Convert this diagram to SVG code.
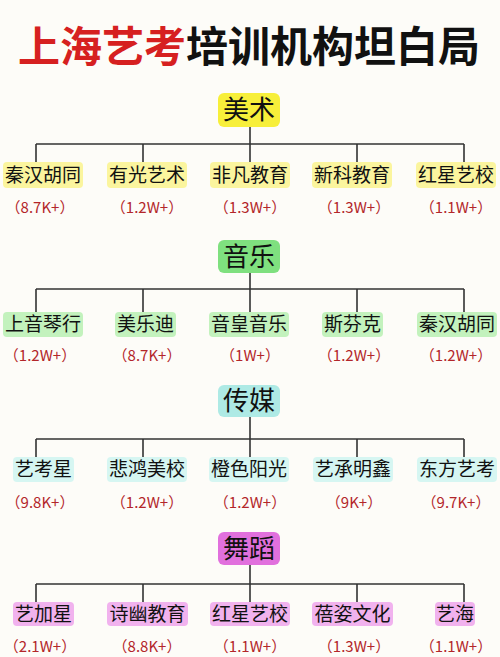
<svg xmlns="http://www.w3.org/2000/svg" width="500" height="657" viewBox="0 0 500 657">
<style>
text{font-family:"Noto Sans CJK SC","Noto Sans",sans-serif;text-anchor:middle}
.title{font-size:42px;font-weight:bold}
.h{font-size:26px;fill:#111}
.c{font-size:19px;fill:#111}
.v{font-size:15px;fill:#b3262a}
.ln{stroke:#333;stroke-width:1.6;fill:none}
.y1{fill:#f7ef3a}.y2{fill:#fbf59e}
.g1{fill:#7fe07f}.g2{fill:#c3f2bd}
.b1{fill:#aeeae5}.b2{fill:#d6f6f2}
.p1{fill:#e170dd}.p2{fill:#f1b2ee}
</style>
<rect width="500" height="657" fill="#fdfcf8"/>
<g id="title"><text class="title" x="249" y="62"><tspan fill="#d62020">上海艺考</tspan><tspan fill="#111">培训机构坦白局</tspan></text></g>
<g id="connectors">
<path class="ln" d="M250 127V144M36 144H464M36 144V162M143 144V162M250 144V162M357 144V162M464 144V162"/>
<path class="ln" d="M250 273V289M36 289H464M36 289V312M143 289V312M250 289V312M357 289V312M464 289V312"/>
<path class="ln" d="M250 417V439M36 439H464M36 439V457M143 439V457M250 439V457M357 439V457M464 439V457"/>
<path class="ln" d="M250 565V584M36 584H464M36 584V603M143 584V603M250 584V603M357 584V603M464 584V603"/>
</g>
<!-- Section 1 -->
<g id="meishu"><rect class="y1" x="218" y="93" width="62" height="34" rx="6"/><text class="h" x="249" y="119">美术</text></g>
<g id="m1"><rect class="y2" x="3" y="162" width="80" height="26" rx="4"/><text class="c" x="43" y="181.5">秦汉胡同</text><text class="v" x="40" y="213">（8.7K+）</text></g>
<g id="m2"><rect class="y2" x="107" y="162" width="80" height="26" rx="4"/><text class="c" x="147" y="181.5">有光艺术</text><text class="v" x="147" y="213">（1.2W+）</text></g>
<g id="m3"><rect class="y2" x="210" y="162" width="80" height="26" rx="4"/><text class="c" x="250" y="181.5">非凡教育</text><text class="v" x="250" y="213">（1.3W+）</text></g>
<g id="m4"><rect class="y2" x="312" y="162" width="80" height="26" rx="4"/><text class="c" x="352" y="181.5">新科教育</text><text class="v" x="354" y="213">（1.3W+）</text></g>
<g id="m5"><rect class="y2" x="416" y="162" width="80" height="26" rx="4"/><text class="c" x="456" y="181.5">红星艺校</text><text class="v" x="456" y="213">（1.1W+）</text></g>
<!-- Section 2 -->
<g id="yinyue"><rect class="g1" x="218" y="240" width="62" height="33" rx="6"/><text class="h" x="249" y="265.5">音乐</text></g>
<g id="y1"><rect class="g2" x="3" y="312" width="80" height="25" rx="4"/><text class="c" x="43" y="331">上音琴行</text><text class="v" x="40" y="361">（1.2W+）</text></g>
<g id="y2"><rect class="g2" x="115" y="312" width="61" height="25" rx="4"/><text class="c" x="145.5" y="331">美乐迪</text><text class="v" x="147" y="361">（8.7K+）</text></g>
<g id="y3"><rect class="g2" x="209" y="312" width="80" height="25" rx="4"/><text class="c" x="249" y="331">音皇音乐</text><text class="v" x="250" y="361">（1W+）</text></g>
<g id="y4"><rect class="g2" x="322" y="312" width="61" height="25" rx="4"/><text class="c" x="352.5" y="331">斯芬克</text><text class="v" x="354" y="361">（1.2W+）</text></g>
<g id="y5"><rect class="g2" x="417" y="312" width="80" height="25" rx="4"/><text class="c" x="457" y="331">秦汉胡同</text><text class="v" x="456" y="361">（1.2W+）</text></g>
<!-- Section 3 -->
<g id="chuanmei"><rect class="b1" x="218" y="385" width="62" height="32" rx="6"/><text class="h" x="249" y="410">传媒</text></g>
<g id="c1"><rect class="b2" x="13" y="457" width="61" height="25" rx="4"/><text class="c" x="43.5" y="476">艺考星</text><text class="v" x="40" y="508">（9.8K+）</text></g>
<g id="c2"><rect class="b2" x="107" y="457" width="80" height="25" rx="4"/><text class="c" x="147" y="476">悲鸿美校</text><text class="v" x="147" y="508">（1.2W+）</text></g>
<g id="c3"><rect class="b2" x="209" y="457" width="80" height="25" rx="4"/><text class="c" x="249" y="476">橙色阳光</text><text class="v" x="250" y="508">（1.2W+）</text></g>
<g id="c4"><rect class="b2" x="313" y="457" width="80" height="25" rx="4"/><text class="c" x="353" y="476">艺承明鑫</text><text class="v" x="354" y="508">（9K+）</text></g>
<g id="c5"><rect class="b2" x="417" y="457" width="80" height="25" rx="4"/><text class="c" x="457" y="476">东方艺考</text><text class="v" x="456" y="508">（9.7K+）</text></g>
<!-- Section 4 -->
<g id="wudao"><rect class="p1" x="218" y="532" width="62" height="33" rx="6"/><text class="h" x="249" y="557.5">舞蹈</text></g>
<g id="w1"><rect class="p2" x="13" y="602" width="61" height="24" rx="4"/><text class="c" x="43.5" y="620.5">艺加星</text><text class="v" x="40" y="652">（2.1W+）</text></g>
<g id="w2"><rect class="p2" x="107" y="602" width="81" height="24" rx="4"/><text class="c" x="147.5" y="620.5">诗幽教育</text><text class="v" x="147" y="652">（8.8K+）</text></g>
<g id="w3"><rect class="p2" x="210" y="602" width="80" height="24" rx="4"/><text class="c" x="250" y="620.5">红星艺校</text><text class="v" x="250" y="652">（1.1W+）</text></g>
<g id="w4"><rect class="p2" x="312" y="602" width="81" height="24" rx="4"/><text class="c" x="352.5" y="620.5">蓓姿文化</text><text class="v" x="354" y="652">（1.3W+）</text></g>
<g id="w5"><rect class="p2" x="435" y="602" width="40" height="24" rx="4"/><text class="c" x="455" y="620.5">艺海</text><text class="v" x="456" y="652">（1.1W+）</text></g>
</svg>
